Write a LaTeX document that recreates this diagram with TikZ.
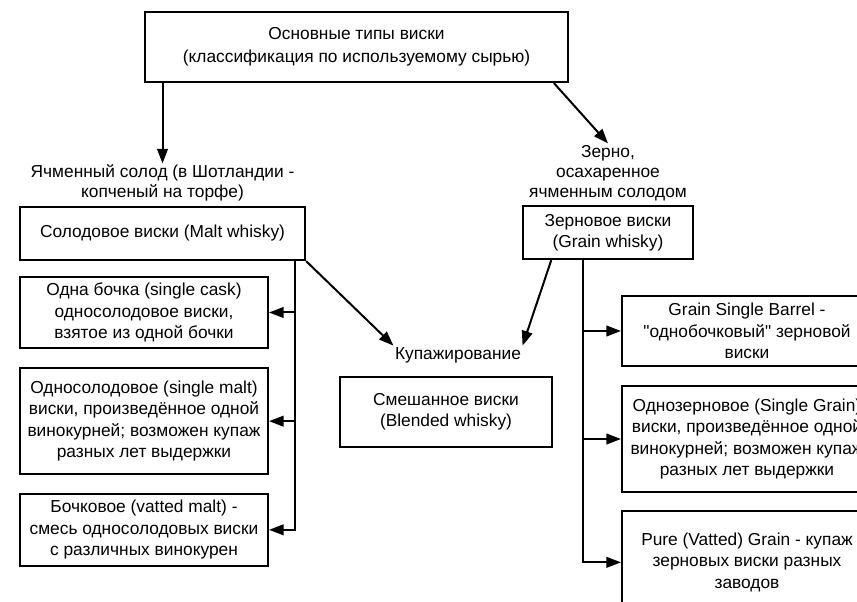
\documentclass[tikz,border=0pt]{standalone}
\usepackage{fontspec}
\setmainfont{Liberation Sans}[Ligatures=TeXOff]
\usetikzlibrary{calc,positioning,arrows.meta}
\tikzset{
  sortbox/.style={
      draw,
      line width=1.5pt,
      align=center,
      inner sep=0pt,
      font=\fontsize{13pt}{16pt}\selectfont,
  },
  note/.style={
      align=center,
      inner sep=1pt,
      font=\fontsize{13pt}{15pt}\selectfont,
  },
  link/.style={
      line width=1.5pt,
      -{Triangle[length=11pt,width=8pt]},
  },
}
\begin{document}
\begin{tikzpicture}[x=0.75pt,y=-0.75pt]
  \useasboundingbox (0,0) rectangle (857,602);
  \clip (0,0) rectangle (857,602);
  % top
  \node[sortbox,minimum width=317pt,minimum height=52.5pt,
  font=\fontsize{13pt}{17pt}\selectfont](top) at (356.5,47)
  {Основные типы виски\\(классификация по используемому сырью)};
  % malt side
  \node[sortbox,minimum width=214pt,minimum height=40pt](malt) at (162.5,233.5)
  {Солодовое виски (Malt whisky)};
  \node[note,above=2pt of malt](maltnote)
  {Ячменный солод (в Шотландии -\\копченый на торфе)};
  \node[sortbox,minimum width=186pt,minimum height=53pt](l1) at (144,312.5)
  {Одна бочка (single cask)\\односолодовое виски,\\взятое из одной бочки};
  \node[sortbox,minimum width=186pt,minimum height=79pt,below=14pt of l1](l2)
  {Односолодовое (single malt)\\виски, произведённое одной\\винокурней; возможен купаж\\разных лет выдержки};
  \node[sortbox,minimum width=186pt,minimum height=54pt,below=13.5pt of l2](l3)
  {Бочковое (vatted malt) -\\смесь односолодовых виски\\с различных винокурен};
  % grain side
  \node[sortbox,minimum width=127.5pt,minimum height=40pt](grain) at (608,232.5)
  {Зерновое виски\\(Grain whisky)};
  \node[note,above=2pt of grain](grainnote)
  {Зерно,\\осахаренное\\ячменным солодом};
  \node[sortbox,minimum width=187.5pt,minimum height=52.5pt](r1) at (747,331)
  {Grain Single Barrel -\\"однобочковый" зерновой\\виски};
  \node[sortbox,minimum width=187.5pt,minimum height=79.5pt,below=13.5pt of r1](r2)
  {Однозерновое (Single Grain)\\виски, произведённое одной\\винокурней; возможен купаж\\разных лет выдержки};
  \node[sortbox,minimum width=187.5pt,minimum height=76.5pt,below=13pt of r2](r3)
  {Pure (Vatted) Grain - купаж\\зерновых виски разных\\заводов};
  % blend
  \node[note](kup) at (458,355) {Купажирование};
  \node[sortbox,minimum width=159pt,minimum height=52.5pt](blend) at (446,412)
  {Смешанное виски\\(Blended whisky)};
  % links
  \draw[link] (top.south -| maltnote) -- (maltnote.north);
  \draw[link] ($(top.south east)+(-15,0)$) -- (grainnote.north);
  \coordinate (mtrunk) at (295,260);
  \draw[link] (mtrunk) |- (l3.east);
  \draw[link] (l1.east -| mtrunk) -- (l1.east);
  \draw[link] (l2.east -| mtrunk) -- (l2.east);
  \coordinate (gtrunk) at (583,259);
  \draw[link] (gtrunk) |- (r3.west);
  \draw[link] (r1.west -| gtrunk) -- (r1.west);
  \draw[link] (r2.west -| gtrunk) -- (r2.west);
  \draw[link] (malt.south east) -- (kup.north west);
  \draw[link] ($(grain.south west)!0.17!(grain.south east)$) -- (kup.north east);
\end{tikzpicture}
\end{document}
